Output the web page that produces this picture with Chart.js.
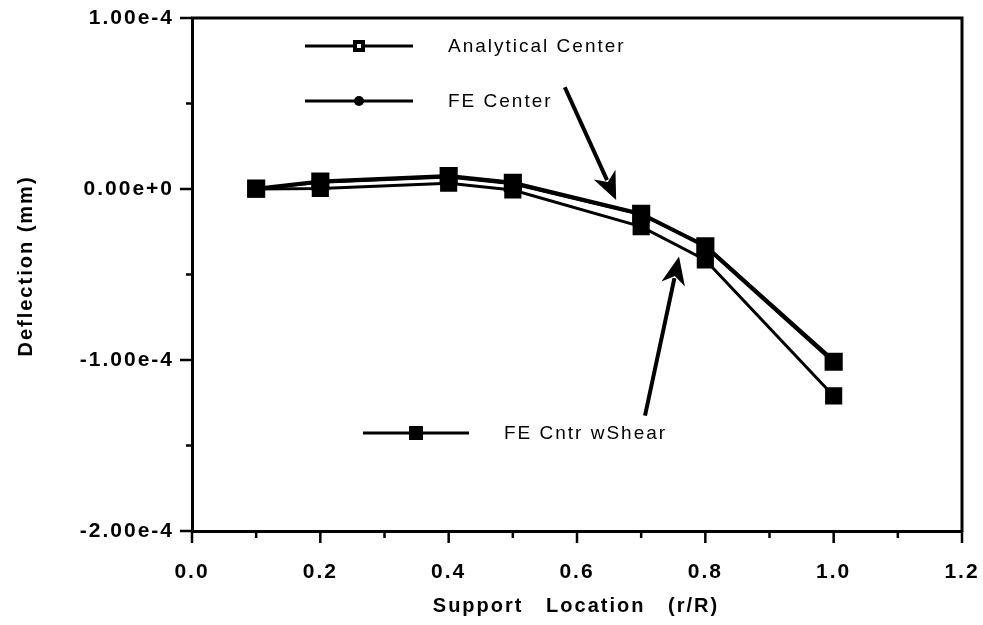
<!DOCTYPE html>
<html>
<head>
<meta charset="utf-8">
<title>Deflection</title>
<script src="https://cdn.jsdelivr.net/npm/chart.js@4/dist/chart.umd.min.js"></script>
<style>
  html, body { margin: 0; padding: 0; background: #fff; }
  #wrap { width: 983px; height: 625px; }
</style>
</head>
<body>
<div id="wrap"><canvas id="myChart"></canvas></div>
<script>
// DATA
const supportLoc = [0.1, 0.2, 0.4, 0.5, 0.7, 0.8, 1.0];
const analyticalCenter = [0.2e-6, 4.4e-6, 7.6e-6, 3.6e-6, -1.45e-5, -3.35e-5, -1.01e-4];
const feCenter = [0.0, 4.0e-6, 7.0e-6, 3.0e-6, -1.5e-5, -3.3e-5, -1.0e-4];
const feCntrShear = [0.0, 0.3e-6, 3.4e-6, -0.6e-6, -2.2e-5, -4.15e-5, -1.21e-4];
const seriesNames = ['Analytical Center', 'FE Center', 'FE Cntr wShear'];
const xTickLabels = ['0.0', '0.2', '0.4', '0.6', '0.8', '1.0', '1.2'];
const yTickLabels = ['1.00e-4', '0.00e+0', '-1.00e-4', '-2.00e-4'];

// arrows (data coords): [x0, y0, x1, y1]
const arrows = [
  [0.581, 5.95e-5, 0.661, -6.5e-6],
  [0.706, -1.325e-4, 0.759, -3.95e-5]
];

const FONT = '"Liberation Sans", Arial, sans-serif';

function pts(ys) {
  return supportLoc.map((x, i) => ({ x: x, y: ys[i] }));
}

function xLabel(v) { return v.toFixed(1); }
function yLabel(v) {
  let s = v.toExponential(2);
  if (s === '-0.00e+0') s = '0.00e+0';
  return s;
}

function drawArrow(ctx, x0, y0, x1, y1) {
  let ang = Math.atan2(y1 - y0, x1 - x0);
  let hl = 28, hw = 12;
  let c = Math.cos(ang), s = Math.sin(ang);
  let bx = x1 - hl * c, by = y1 - hl * s;
  ctx.beginPath();
  ctx.moveTo(x0, y0);
  ctx.lineTo(bx + 6 * c, by + 6 * s);
  ctx.lineWidth = 4;
  ctx.stroke();
  ctx.beginPath();
  ctx.moveTo(x1, y1);
  ctx.lineTo(bx + hw * s, by - hw * c);
  ctx.lineTo(bx + 8 * c, by + 8 * s);
  ctx.lineTo(bx - hw * s, by + hw * c);
  ctx.closePath();
  ctx.fill();
}

function legendItem(ctx, x0, x1, y, style, text) {
  ctx.lineWidth = 3;
  ctx.beginPath(); ctx.moveTo(x0, y); ctx.lineTo(x1, y); ctx.stroke();
  let cx = (x0 + x1) / 2;
  if (style === 'open') {
    ctx.fillRect(cx - 6, y - 6, 12, 12);
    ctx.fillStyle = '#fff';
    ctx.fillRect(cx - 2, y - 2, 4, 4);
    ctx.fillStyle = '#000';
  } else if (style === 'circle') {
    ctx.beginPath(); ctx.arc(cx, y, 5, 0, Math.PI * 2); ctx.fill();
  } else {
    ctx.fillRect(cx - 7, y - 7, 14, 14);
  }
  ctx.font = '19px ' + FONT;
  ctx.letterSpacing = '2px';
  ctx.textAlign = 'left';
  ctx.textBaseline = 'middle';
  ctx.fillText(text, x1 + 35, y + 1);
}

const decor = {
  id: 'decor',
  beforeDraw(chart) {
    chart.ctx.letterSpacing = '2px';
  },
  afterDraw(chart) {
    const ctx = chart.ctx;
    const a = chart.chartArea;
    const sx = chart.scales.x, sy = chart.scales.y;
    ctx.save();
    ctx.strokeStyle = '#000';
    ctx.fillStyle = '#000';

    // frame top + right
    ctx.lineWidth = 3;
    ctx.beginPath();
    ctx.moveTo(a.left - 1, a.top);
    ctx.lineTo(a.right, a.top);
    ctx.lineTo(a.right, a.bottom + 1);
    ctx.stroke();

    // tick marks
    ctx.lineWidth = 2.5;
    sx.ticks.forEach(t => {
      let px = sx.getPixelForValue(t.value);
      let len = xTickLabels.includes(xLabel(t.value)) ? 12 : 7;
      ctx.beginPath(); ctx.moveTo(px, a.bottom); ctx.lineTo(px, a.bottom + len); ctx.stroke();
    });
    sy.ticks.forEach(t => {
      let py = sy.getPixelForValue(t.value);
      let len = yTickLabels.includes(yLabel(t.value)) ? 12 : 6;
      ctx.beginPath(); ctx.moveTo(a.left, py); ctx.lineTo(a.left - len, py); ctx.stroke();
    });

    // legend
    legendItem(ctx, 305, 413, 46, 'open', seriesNames[0]);
    legendItem(ctx, 305, 413, 101, 'circle', seriesNames[1]);
    legendItem(ctx, 363, 469, 433, 'square', seriesNames[2]);

    // arrows
    arrows.forEach(r => drawArrow(ctx,
      sx.getPixelForValue(r[0]), sy.getPixelForValue(r[1]),
      sx.getPixelForValue(r[2]), sy.getPixelForValue(r[3])));

    // axis titles
    ctx.font = 'bold 20px ' + FONT;
    ctx.letterSpacing = '2px';
    ctx.textAlign = 'center';
    ctx.textBaseline = 'middle';
    ctx.fillText('Support   Location   (r/R)', 576, 606);
    ctx.translate(26, 266);
    ctx.rotate(-Math.PI / 2);
    ctx.fillText('Deflection (mm)', 0, 0);
    ctx.restore();
  }
};

new Chart(document.getElementById('myChart'), {
  type: 'line',
  data: {
    datasets: [
      {
        label: seriesNames[0],
        data: pts(analyticalCenter),
        borderColor: '#000', backgroundColor: '#000',
        borderWidth: 4, pointStyle: 'rect', pointRadius: 10, pointHoverRadius: 10
      },
      {
        label: seriesNames[1],
        data: pts(feCenter),
        borderColor: '#000', backgroundColor: '#000',
        borderWidth: 3, pointStyle: 'circle', pointRadius: 5, pointHoverRadius: 5
      },
      {
        label: seriesNames[2],
        data: pts(feCntrShear),
        borderColor: '#000', backgroundColor: '#000',
        borderWidth: 3, pointStyle: 'rect', pointRadius: 10, pointHoverRadius: 10
      }
    ]
  },
  options: {
    responsive: true,
    maintainAspectRatio: false,
    animation: false,
    layout: { padding: { left: 0, top: 18, right: 21, bottom: 0 } },
    plugins: {
      legend: { display: false },
      tooltip: { enabled: false }
    },
    scales: {
      x: {
        type: 'linear',
        min: 0, max: 1.2,
        afterFit: s => { s.height = 94; s.paddingLeft = 0; s.paddingRight = 0; },
        grid: { display: true, drawOnChartArea: false, drawTicks: false },
        border: { display: true, color: '#000', width: 3 },
        ticks: {
          stepSize: 0.1, autoSkip: false, maxRotation: 0, padding: 29,
          color: '#000', font: { family: FONT, size: 21, weight: 'bold' },
          callback: v => xTickLabels.includes(xLabel(v)) ? xLabel(v) : ''
        }
      },
      y: {
        min: -2e-4, max: 1e-4,
        afterFit: s => { s.width = 192; s.paddingTop = 0; s.paddingBottom = 0; },
        grid: { display: true, drawOnChartArea: false, drawTicks: false },
        border: { display: true, color: '#000', width: 3 },
        ticks: {
          stepSize: 5e-5, autoSkip: false, padding: 18,
          color: '#000', font: { family: FONT, size: 21, weight: 'bold' },
          callback: v => yTickLabels.includes(yLabel(v)) ? yLabel(v) : ''
        }
      }
    }
  },
  plugins: [decor]
});
</script>
</body>
</html>
